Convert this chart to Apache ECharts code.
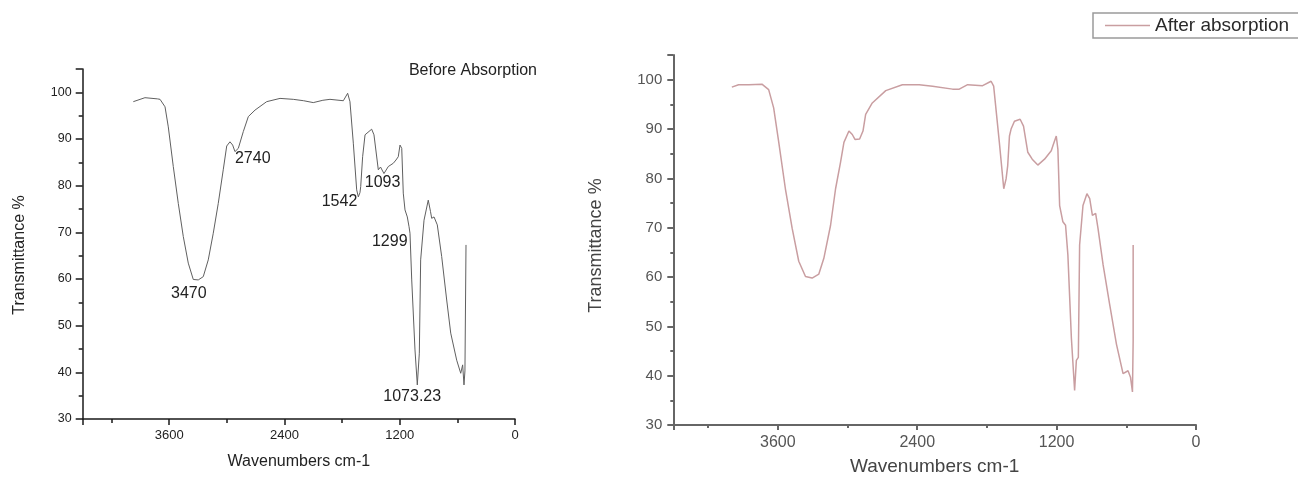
<!DOCTYPE html>
<html>
<head>
<meta charset="utf-8">
<script src="https://cdn.jsdelivr.net/npm/echarts@6/dist/echarts.min.js"></script>
<style>
html,body{margin:0;padding:0;background:#fff;}
#chart{width:1298px;height:481px;}
</style>
</head>
<body>
<div id="chart"></div>
<script>
// Before absorption spectrum (wavenumber cm-1, transmittance %)
const beforeWave = [3973,3852,3723,3695,3643,3609,3557,3505,3453,3401,3349,3297,3245,3193,3141,3089,3037,3001,2967,2939,2915,2880,2828,2776,2706,2585,2446,2308,2200,2100,2000,1926,1787,1742,1718,1683,1648,1631,1614,1606,1586,1561,1544,1492,1468,1423,1413,1400,1390,1364,1319,1267,1239,1215,1197,1179,1163,1145,1121,1103,1093,1075,1041,1017,996,990,982,947,903,880,867,843,809,763,711,669,607,565,545,531,521,510];
const beforeT    = [98.0,98.85,98.6,98.5,96.9,92.6,84.1,76.2,69.1,63.4,59.9,59.8,60.5,64.1,69.8,76.2,83.4,88.5,89.4,88.7,87.3,88.0,91.6,94.8,96.2,98.0,98.7,98.5,98.2,97.8,98.3,98.5,98.2,99.8,98.0,89.1,79.1,77.6,78.5,79.8,86.2,90.9,91.2,92.1,90.9,83.4,83.7,84.0,83.9,82.6,84.1,84.8,85.5,86.2,88.7,88.0,78.4,74.8,73.3,71.2,69.8,59.8,44.8,37.3,44.1,44.5,64.1,72.6,76.9,74.5,73.0,73.3,71.6,64.8,55.5,48.4,42.6,39.8,41.6,37.3,40.3,67.3];

// After absorption spectrum
const afterWave = [3996,3938,3850,3737,3679,3636,3592,3535,3477,3420,3362,3305,3247,3204,3146,3103,3060,3031,2988,2959,2936,2896,2867,2844,2787,2671,2528,2383,2268,2096,2038,1966,1837,1764,1742,1693,1655,1635,1621,1606,1592,1563,1514,1485,1448,1410,1362,1304,1246,1232,1203,1189,1174,1146,1123,1103,1073,1045,1030,1013,1002,973,939,915,892,864,844,800,743,685,628,585,564,547,541,541];
const afterT    = [98.5,99.0,99.0,99.1,98.0,94.3,87.3,77.9,69.9,63.2,60.1,59.8,60.6,63.8,70.5,77.9,83.3,87.3,89.6,88.9,87.9,88.0,89.6,93.0,95.3,97.8,99.0,99.0,98.7,98.1,98.1,99.0,98.8,99.7,98.7,87.3,77.9,79.9,82.6,88.6,90.0,91.6,92.0,90.6,85.3,83.9,82.7,83.9,85.6,86.6,88.6,85.9,74.5,71.2,70.5,64.5,47.7,37.0,43.1,43.7,66.5,74.5,76.9,75.9,72.5,72.9,69.9,62.5,54.4,46.4,40.4,41.0,39.7,36.7,47.1,66.5];

// Peak annotations on the "before" panel: text, wavenumber, transmittance (label centre)
const peakLabels = ['3470','2740','1542','1093','1299','1073.23'];
const peakWave   = [3395,2730,1827,1378,1304,1070];
const peakT      = [56.9,85.7,76.6,80.6,68.0,34.8];

// Axis settings
const xMin = 0, xMax = 4500, xInterval = 1200;
const yMin = 30, yMax = 105, yInterval = 10;

const seriesNames = ['Before Absorption', 'After absorption'];

const pairs = (xs, ys) => xs.map((x, i) => [x, ys[i]]);
const FONT = 'Liberation Sans, Arial, sans-serif';

function xAxisCfg(gridIndex, o) {
  return {
    gridIndex, type: 'value', inverse: true, min: xMin, max: xMax, interval: xInterval,
    position: 'bottom',
    name: 'Wavenumbers cm-1', nameLocation: 'middle', nameGap: o.nameGap,
    nameTextStyle: { fontSize: o.nameSize, color: o.nameColor, fontFamily: FONT },
    axisLine: { show: true, onZero: false, lineStyle: { color: o.lineColor, width: o.lineWidth } },
    axisTick: { show: true, inside: false, length: o.tickLen, lineStyle: { color: o.lineColor, width: o.lineWidth } },
    minorTick: { show: true, splitNumber: 2, length: o.minorLen, lineStyle: { color: o.lineColor, width: o.lineWidth } },
    splitLine: { show: false }, minorSplitLine: { show: false },
    axisLabel: { margin: o.labelMargin, fontSize: o.labelSize, color: o.labelColor, fontFamily: FONT,
      formatter: v => (v % xInterval === 0 ? String(v) : '') }
  };
}
function yAxisCfg(gridIndex, o) {
  return {
    gridIndex, type: 'value', min: yMin, max: yMax, interval: yInterval,
    position: 'left',
    name: 'Transmittance %', nameLocation: 'middle', nameGap: o.nameGap, nameRotate: 90,
    nameTextStyle: { fontSize: o.nameSize, color: o.nameColor, fontFamily: FONT, padding: o.namePad },
    axisLine: { show: true, onZero: false, lineStyle: { color: o.lineColor, width: o.lineWidth } },
    axisTick: { show: true, inside: false, length: o.tickLen, lineStyle: { color: o.lineColor, width: o.lineWidth } },
    minorTick: { show: true, splitNumber: 2, length: o.minorLen, lineStyle: { color: o.lineColor, width: o.lineWidth } },
    splitLine: { show: false }, minorSplitLine: { show: false },
    axisLabel: { margin: o.labelMargin, fontSize: o.labelSize, color: o.labelColor, fontFamily: FONT,
      formatter: v => (v % yInterval === 0 ? String(v) : '') }
  };
}

const chart = echarts.init(document.getElementById('chart'), null, { renderer: 'canvas' });
chart.setOption({
  backgroundColor: '#ffffff',
  animation: false,
  title: {
    text: seriesNames[0], right: 761, top: 63, padding: 0,
    textStyle: { fontSize: 16, fontWeight: 'normal', color: '#222', lineHeight: 16, fontFamily: FONT }
  },
  legend: {
    data: [seriesNames[1]], left: 1093, top: 13,
    padding: [3, 12, 3, 12], icon: 'rect', itemWidth: 45, itemHeight: 1.5, itemGap: 5,
    itemStyle: { color: '#c99ea1' },
    borderColor: '#9a9a9a', borderWidth: 1.5, backgroundColor: '#fff',
    textStyle: { fontSize: 19, color: '#2a2a2a', fontFamily: FONT }
  },
  grid: [
    { left: 82.7, top: 69, width: 432.3, height: 350 },
    { left: 673.3, top: 55.1, width: 522.7, height: 373.2 }
  ],
  xAxis: [
    xAxisCfg(0, { nameGap: 35, nameSize: 16, nameColor: '#222', lineColor: '#1a1a1a', lineWidth: 1.5, tickLen: 6, minorLen: 4, labelMargin: 10, labelSize: 13, labelColor: '#222' }),
    xAxisCfg(1, { nameGap: 32, nameSize: 19, nameColor: '#444', lineColor: '#666', lineWidth: 2, tickLen: 5, minorLen: 3, labelMargin: 10, labelSize: 16, labelColor: '#555' })
  ],
  yAxis: [
    yAxisCfg(0, { nameGap: 55, nameSize: 16, nameColor: '#222', namePad: [0, 22, 0, 0], lineColor: '#1a1a1a', lineWidth: 1.5, tickLen: 7, minorLen: 4, labelMargin: 11, labelSize: 12.5, labelColor: '#222' }),
    yAxisCfg(1, { nameGap: 68, nameSize: 18, nameColor: '#444', namePad: [0, 11, 0, 0], lineColor: '#666', lineWidth: 2, tickLen: 6, minorLen: 3, labelMargin: 11, labelSize: 15, labelColor: '#555' })
  ],
  series: [
    {
      name: seriesNames[0], type: 'line', xAxisIndex: 0, yAxisIndex: 0,
      data: pairs(beforeWave, beforeT), symbol: 'none', smooth: false,
      lineStyle: { color: '#606060', width: 1 }, itemStyle: { color: '#606060' },
      markPoint: {
        symbol: 'circle', symbolSize: 0, silent: true,
        label: { show: true, position: 'inside', formatter: p => p.name, fontSize: 16, color: '#222', fontFamily: FONT },
        data: peakLabels.map((t, i) => ({ name: t, coord: [peakWave[i], peakT[i]] }))
      }
    },
    {
      name: seriesNames[1], type: 'line', xAxisIndex: 1, yAxisIndex: 1,
      data: pairs(afterWave, afterT), symbol: 'none', smooth: false,
      lineStyle: { color: '#c99ea1', width: 1.5 }, itemStyle: { color: '#c99ea1' }
    }
  ]
});
</script>
</body>
</html>
